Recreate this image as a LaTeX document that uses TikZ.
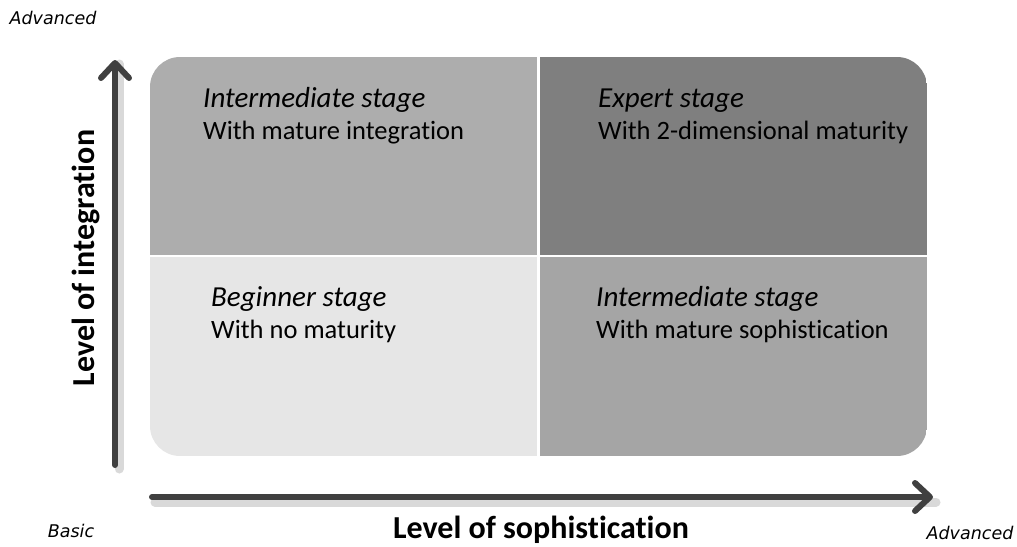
\documentclass[tikz,border=0pt]{standalone}
\usepackage{fontspec}
\setmainfont{Carlito}[Ligatures={NoCommon}]
\newfontfamily\cornerfont{DejaVu Sans}
\usetikzlibrary{arrows.meta,positioning}
\colorlet{axisColor}{black!75}
\definecolor{tlColor}{HTML}{ADADAD}
\definecolor{trColor}{HTML}{7F7F7F}
\definecolor{blColor}{HTML}{E6E6E6}
\definecolor{brColor}{HTML}{A5A5A5}

\begin{document}
\begin{tikzpicture}[x=1pt,y=-1pt,line cap=round,
  axis/.style={axisColor,line width=6pt,
    -{Straight Barb[length=15pt,width=28pt,line width=6pt,round]}},
  axisshadow/.style={black,opacity=0.15,line width=9pt},
  stagetitle/.style={anchor=base west,inner sep=0pt,font=\fontsize{29}{33}\selectfont\itshape},
  stagetext/.style={anchor=base west,inner sep=0pt,font=\fontsize{26.5}{30}\selectfont},
  axislabel/.style={inner sep=0pt,font=\fontsize{32}{38}\selectfont\bfseries},
  cornerlabel/.style={inner sep=0pt,font=\fontsize{17.5}{20}\selectfont\cornerfont\itshape}]

  \useasboundingbox (0,0) rectangle (1017,546);

  % quadrants
  \begin{scope}
    \clip [rounded corners=30pt] (150,57) rectangle (927,456);
    \fill [tlColor] (150,57) rectangle (538,256);
    \fill [trColor] (538,57) rectangle (927,256);
    \fill [blColor] (150,256) rectangle (538,456);
    \fill [brColor] (538,256) rectangle (927,456);
    \draw [white,line width=2.5pt] (538.5,57) -- (538.5,456);
    \draw [white,line width=2.5pt] (150,256) -- (927,256);
  \end{scope}

  % axes
  \coordinate (vbot) at (115,465);
  \coordinate (vtop) at (115,60);
  \coordinate (hleft) at (152,497);
  \coordinate (hright) at (933,497);

  \draw [axisshadow] ([shift={(4,4)}]vbot) -- ([shift={(4,4)}]vtop);
  \draw [axisshadow] ([shift={(3,5)}]hleft) -- ([shift={(3,5)}]hright);
  \draw [axis] (vbot) -- (vtop);
  \draw [axis] (hleft) -- (hright);

  % stage texts
  \node [stagetitle] (tltitle) at (203,107) {Intermediate stage};
  \node [stagetext] (tltext) at (203,139) {With mature integration};
  \node [stagetitle] (trtitle) at (598,107) {Expert stage};
  \node [stagetext] (trtext) at (598,139) {With 2-dimensional maturity};
  \node [stagetitle] (bltitle) at (211,306) {Beginner stage};
  \node [stagetext] (bltext) at (211,338) {With no maturity};
  \node [stagetitle] (brtitle) at (596,306) {Intermediate stage};
  \node [stagetext] (brtext) at (596,338) {With mature sophistication};

  % axis labels
  \node [axislabel,rotate=90] (ylabel) at (86,258) {Level of integration};
  \node [axislabel] (xlabel) at (541,530) {Level of sophistication};
  \node [cornerlabel] (yadv) at (53,18) {Advanced};
  \node [cornerlabel] (xbasic) at (71,531) {Basic};
  \node [cornerlabel] (xadv) at (970,533) {Advanced};

\end{tikzpicture}
\end{document}
